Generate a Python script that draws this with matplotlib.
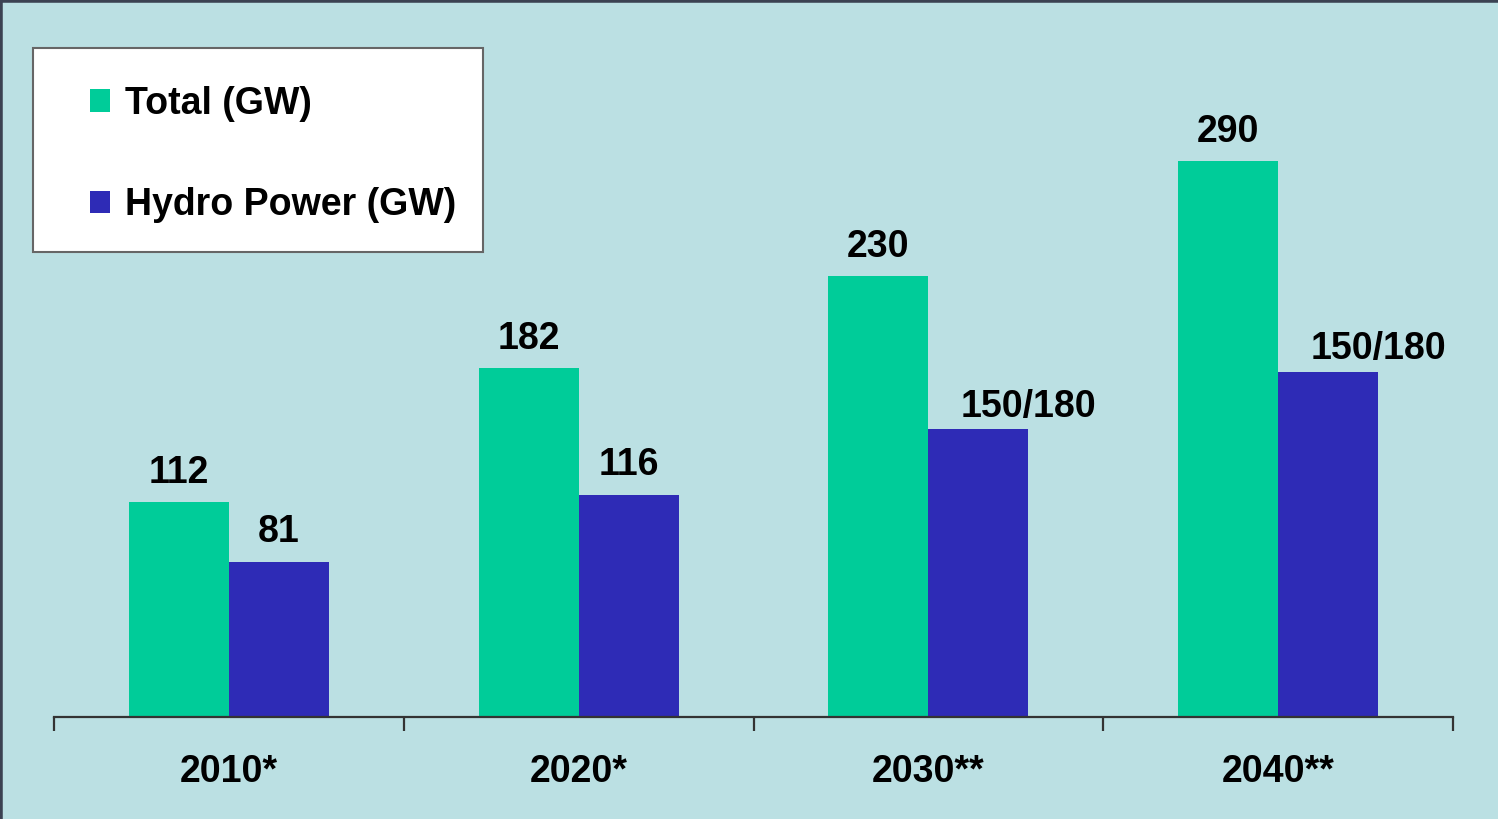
import matplotlib.pyplot as plt
import numpy as np
from matplotlib.patches import Rectangle
from matplotlib.lines import Line2D

years = ['2010*', '2020*', '2030**', '2040**']
total_gw = [112, 182, 230, 290]
hydro_gw = [81, 116, 150, 180]
total_labels = ['112', '182', '230', '290']
hydro_labels = ['81', '116', '150/180', '150/180']

BG = '#bbe0e3'
GREEN = '#00cc99'
BLUE = '#2e2bb6'
FS = 27

plt.rcParams['font.family'] = ['Liberation Sans Narrow', 'Liberation Sans', 'DejaVu Sans']
plt.rcParams['font.weight'] = 'bold'

fig = plt.figure(figsize=(14.98, 8.19), dpi=100, facecolor=BG)
ax = fig.add_axes([54 / 1498, 1 - 717 / 819, (1453 - 54) / 1498, 717 / 819])
ax.set_facecolor(BG)

x = np.arange(len(years))
w = 100 / 350
b1 = ax.bar(x - w / 2, total_gw, w, color=GREEN, label='Total (GW)', zorder=2)
b2 = ax.bar(x + w / 2, hydro_gw, w, color=BLUE, label='Hydro Power (GW)', zorder=2)

# value labels (the 150/180 ones sit a bit to the right in the original)
for r, t in zip(b1, total_labels):
    ax.annotate(t, (r.get_x() + r.get_width() / 2, r.get_height()), xytext=(0, 14),
                textcoords='offset points', ha='center', va='baseline', fontsize=FS, fontweight='bold')
for r, t in zip(b2, hydro_labels):
    dx = 36 if '/' in t else 0
    dy = 9 if '/' in t else 14
    ax.annotate(t, (r.get_x() + r.get_width() / 2, r.get_height()), xytext=(dx, dy),
                textcoords='offset points', ha='center', va='baseline', fontsize=FS, fontweight='bold')

ax.set_xlim(-0.5, 3.5)
ax.set_ylim(0, 374)
for s in ['top', 'right', 'left']:
    ax.spines[s].set_visible(False)
ax.spines['bottom'].set_color('#333333')
ax.spines['bottom'].set_linewidth(1.6)
ax.set_yticks([])
ax.set_xticks(x)
ax.set_xticklabels(years, fontsize=FS, fontweight='bold')
ax.tick_params(axis='x', which='major', length=0, pad=27)
ax.set_xticks(np.arange(-0.5, 4, 1), minor=True)
ax.tick_params(axis='x', which='minor', length=10, width=1.6, color='#333333')

# legend box
fig.patches.append(Rectangle((33 / 1498, 1 - 252 / 819), 450 / 1498, 204 / 819,
                             transform=fig.transFigure, facecolor='white',
                             edgecolor='#666666', linewidth=1.5, zorder=3))
h, l = ax.get_legend_handles_labels()
leg = fig.legend(h, l, loc='upper left', bbox_to_anchor=(71 / 1498, 1 - 67 / 819),
                 frameon=False, prop={'size': FS, 'weight': 'bold'},
                 handlelength=0.55, handleheight=0.55, handletextpad=0.4,
                 labelspacing=1.75, borderpad=0)
leg.set_zorder(5)

# dark border on top and left edges
fig.lines.append(Line2D([0, 0, 1], [0, 1, 1], transform=fig.transFigure,
                        color='#3b4252', linewidth=4))

fig.savefig('out.png', dpi=100, facecolor=BG)
